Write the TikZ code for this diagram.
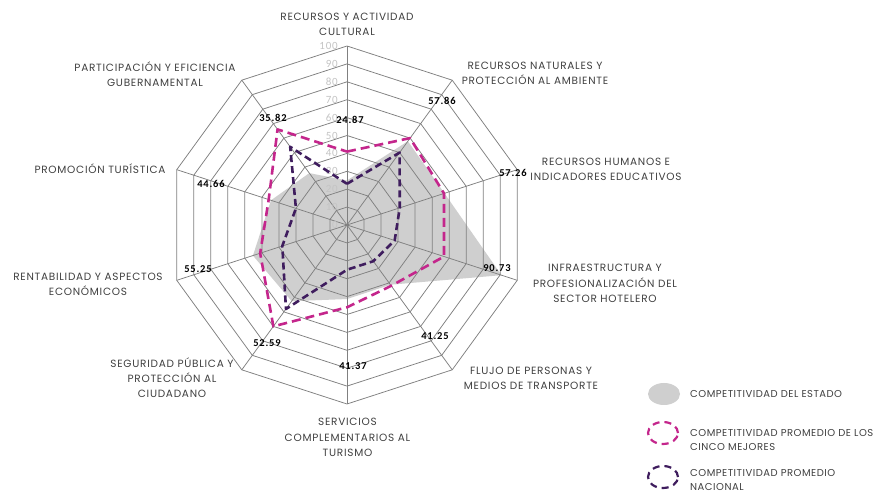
\documentclass[tikz,border=0pt]{standalone}
\usepackage{fontspec}
\setmainfont{Carlito}
\newfontfamily\labfont[LetterSpace=7]{Poppins}
\newfontfamily\legfont[LetterSpace=5]{Poppins}
\newfontfamily\valfont[LetterSpace=8]{Carlito}
\definecolor{gridgray}{HTML}{808080}
\definecolor{ringlab}{HTML}{C4C4C4}
\definecolor{statefill}{HTML}{CFCFCF}
\definecolor{topfive}{HTML}{C4268C}
\definecolor{national}{HTML}{3F1D5E}
\definecolor{labtext}{HTML}{404040}
\tikzset{
  gridline/.style={draw=gridgray, line width=0.75pt},
  toplinestyle/.style={draw=topfive, line width=2.6pt, dash pattern=on 9pt off 5pt, line join=round},
  natlinestyle/.style={draw=national, line width=2.6pt, dash pattern=on 7pt off 4pt, line join=round},
  axislab/.style={text=labtext, font=\labfont\fontsize{10.5}{15.3}\selectfont, align=center, inner sep=0pt},
  vallab/.style={text=black, font=\valfont\fontsize{10.5}{10}\selectfont\bfseries, inner sep=0pt},
  ringlabel/.style={text=ringlab, font=\valfont\fontsize{11}{10}\selectfont, anchor=east, inner sep=0pt},
  legtext/.style={text=labtext, font=\legfont\fontsize{10}{14}\selectfont, align=left, anchor=west, inner sep=0pt}
}
\def\rs{1.79}
\begin{document}
\begin{tikzpicture}[x=1pt,y=1pt]
\useasboundingbox (0,0) rectangle (889,495);
\fill[white] (0,0) rectangle (889,495);
\begin{scope}[shift={(347,270)}]
  % state fill
  \fill[statefill] (90:{24.87*\rs}) -- (54:{57.86*\rs}) -- (18:{57.26*\rs}) -- (-18:{90.73*\rs}) -- (-54:{41.25*\rs})
     -- (-90:{41.37*\rs}) -- (-126:{52.59*\rs}) -- (-162:{55.25*\rs}) -- (-198:{44.66*\rs}) -- (-234:{35.82*\rs}) -- cycle;
  % grid rings
  \foreach \k in {1,...,10} {
    \draw[gridline] (90:{\k*17.9}) -- (54:{\k*17.9}) -- (18:{\k*17.9}) -- (-18:{\k*17.9}) -- (-54:{\k*17.9})
      -- (-90:{\k*17.9}) -- (-126:{\k*17.9}) -- (-162:{\k*17.9}) -- (-198:{\k*17.9}) -- (-234:{\k*17.9}) -- cycle;
  }
  % spokes
  \foreach \a in {90,54,...,-234} { \draw[gridline] (0,0) -- (\a:179); }
  % ring labels
  \foreach \k in {0,1,...,10} {
    \pgfmathtruncatemacro{\v}{\k*10}
    \node[ringlabel] (ring\k) at (-9,{\k*17.9}) {\v};
  }
  % top five average
  \draw[toplinestyle] (90:{41*\rs}) -- (54:{60*\rs}) -- (18:{57*\rs}) -- (-18:{57*\rs}) -- (-54:{42*\rs})
     -- (-90:{46*\rs}) -- (-126:{70*\rs}) -- (-162:{51*\rs}) -- (-198:{46*\rs}) -- (-234:{66*\rs}) -- cycle;
  % national average
  \draw[natlinestyle] (90:{23*\rs}) -- (54:{50*\rs}) -- (18:{31*\rs}) -- (-18:{28*\rs}) -- (-54:{25*\rs})
     -- (-90:{25*\rs}) -- (-126:{58*\rs}) -- (-162:{38*\rs}) -- (-198:{30*\rs}) -- (-234:{54*\rs}) -- cycle;
\end{scope}
% value labels
\node[vallab] (v1) at (350,375) {24.87};
\node[vallab] (v2) at (442,394) {57.86};
\node[vallab] (v3) at (513,322) {57.26};
\node[vallab] (v4) at (497,227) {90.73};
\node[vallab] (v5) at (435,159) {41.25};
\node[vallab] (v6) at (353,129) {41.37};
\node[vallab] (v7) at (267,152) {52.59};
\node[vallab] (v8) at (198,226) {55.25};
\node[vallab] (v9) at (211,311) {44.66};
\node[vallab] (v10) at (273,377) {35.82};
% axis labels
\node[axislab] (l1) at (347,471) {RECURSOS Y ACTIVIDAD\\CULTURAL};
\node[axislab] (l2) at (535,421.5) {RECURSOS NATURALES Y\\PROTECCIÓN AL AMBIENTE};
\node[axislab] (l3) at (606,325.5) {RECURSOS HUMANOS E\\INDICADORES EDUCATIVOS};
\node[axislab] (l4) at (605,211.5) {INFRAESTRUCTURA Y\\PROFESIONALIZACIÓN DEL\\SECTOR HOTELERO};
\node[axislab] (l5) at (531,117) {FLUJO DE PERSONAS Y\\MEDIOS DE TRANSPORTE};
\node[axislab] (l6) at (347.5,57.5) {SERVICIOS\\COMPLEMENTARIOS AL\\TURISMO};
\node[axislab] (l7) at (172,117.5) {SEGURIDAD PÚBLICA Y\\PROTECCIÓN AL\\CIUDADANO};
\node[axislab] (l8) at (88,211) {RENTABILIDAD Y ASPECTOS\\ECONÓMICOS};
\node[axislab] (l9) at (100,326) {PROMOCIÓN TURÍSTICA};
\node[axislab] (l10) at (155,420.5) {PARTICIPACIÓN Y EFICIENCIA\\GUBERNAMENTAL};
% legend
\fill[statefill] (664,101) ellipse [x radius=16, y radius=11];
\node[legtext] (t1) at (690,101) {COMPETITIVIDAD DEL ESTADO};
\draw[draw=topfive, line width=2.2pt, dash pattern=on 7pt off 5pt] (663,62) ellipse [x radius=15, y radius=11];
\node[legtext] (t2) at (690,55) {COMPETITIVIDAD PROMEDIO DE LOS\\CINCO MEJORES};
\draw[draw=national, line width=2.2pt, dash pattern=on 7pt off 5pt] (663,18) ellipse [x radius=15, y radius=11];
\node[legtext] (t3) at (690,15) {COMPETITIVIDAD PROMEDIO\\NACIONAL};
\end{tikzpicture}
\end{document}
